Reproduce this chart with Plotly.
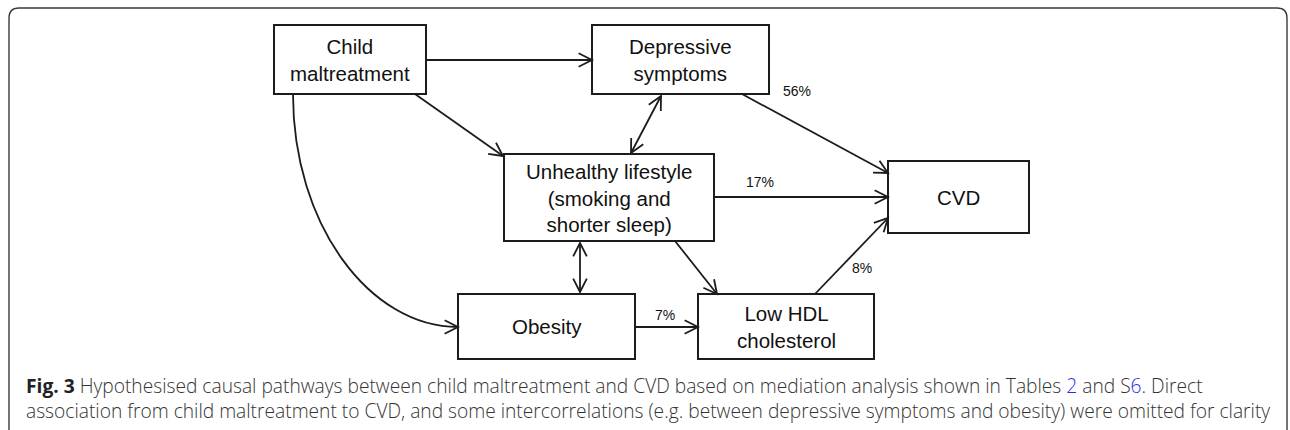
import math
import plotly.graph_objects as go

# ---------------- data ----------------
node_labels = [
    "Child<br>maltreatment",
    "Depressive<br>symptoms",
    "Unhealthy lifestyle<br>(smoking and<br>shorter sleep)",
    "CVD",
    "Obesity",
    "Low HDL<br>cholesterol",
]
edge_source = [0, 0, 1, 1, 2, 2, 2, 4, 5, 0]
edge_target = [1, 2, 2, 3, 3, 5, 4, 5, 3, 4]
edge_both_ways = [False, False, True, False, False, False, True, False, False, False]
edge_percent = [None, None, None, 56, 17, None, None, 7, 8, None]
LINK = "#2b2bf0"
TXT = "#333333"
caption_lines = [
    f"<span style='color:#222'><b>Fig. 3</b></span> Hypothesised causal pathways between child "
    f"maltreatment and CVD based on mediation analysis shown in Tables "
    f"<span style='color:{LINK}'>2</span> and <span style='color:{TXT}'>S</span>"
    f"<span style='color:{LINK}'>6</span>. Direct",
    "association from child maltreatment to CVD, and some intercorrelations (e.g. between "
    "depressive symptoms and obesity) were omitted for clarity",
]

# ---------------- layout geometry (pixel space of the axes) ----------------
W, H = 1290, 430
node_box = [
    (274, 25, 426, 94),
    (592, 25, 769, 94),
    (504, 154, 714, 241),
    (888, 161, 1029, 233),
    (458, 294, 635, 359),
    (698, 294, 874, 359),
]
# edge anchor points (start, end); last edge is a curve (start, c1, c2, end)
edge_geom = [
    [(426, 60), (592, 60)],
    [(415, 94), (503, 156)],
    [(661, 96), (631, 153)],
    [(742, 94), (888, 173)],
    [(714, 197), (888, 197)],
    [(675, 241), (717, 294)],
    [(580, 243), (580, 292)],
    [(635, 327), (698, 327)],
    [(815, 294), (888, 218)],
    [(293, 94), (293, 225), (370, 327), (458, 327)],
]
label_pos = {3: (797, 91), 4: (760, 182), 7: (665, 315), 8: (862, 268)}

INK = "#1c1c1c"
LW = 1.8
HEAD_LEN, HEAD_ANG = 15, math.radians(27)

fig = go.Figure()
shapes = []
annotations = []

# outer rounded frame (bottom runs off the page)
r = 10
frame = (f"M 9,{H + 8} L 9,{8 + r} Q 9,8 {9 + r},8 L {1287 - r},8 "
         f"Q 1287,8 1287,{8 + r} L 1287,{H + 8}")
shapes.append(dict(type="path", path=frame, xref="x", yref="y",
                   line=dict(color="#3a3a3a", width=1.4)))

# node boxes + labels
for lab, (x0, y0, x1, y1) in zip(node_labels, node_box):
    shapes.append(dict(type="rect", x0=x0, y0=y0, x1=x1, y1=y1, xref="x", yref="y",
                       line=dict(color=INK, width=2), fillcolor="white", layer="above"))
    annotations.append(dict(x=(x0 + x1) / 2, y=(y0 + y1) / 2, xref="x", yref="y",
                            text=lab, showarrow=False, xanchor="center", yanchor="middle",
                            font=dict(family="Liberation Sans, Arial", size=20.5, color="#111")))


def head(tip, frm):
    ang = math.atan2(tip[1] - frm[1], tip[0] - frm[0])
    pts = []
    for s in (-1, 1):
        a = ang + math.pi + s * HEAD_ANG
        pts.append((tip[0] + HEAD_LEN * math.cos(a), tip[1] + HEAD_LEN * math.sin(a)))
    return (f"M {pts[0][0]:.2f},{pts[0][1]:.2f} L {tip[0]},{tip[1]} "
            f"L {pts[1][0]:.2f},{pts[1][1]:.2f}")


for i, (s, t) in enumerate(zip(edge_source, edge_target)):
    g = edge_geom[i]
    if len(g) == 4:
        p = f"M {g[0][0]},{g[0][1]} C {g[1][0]},{g[1][1]} {g[2][0]},{g[2][1]} {g[3][0]},{g[3][1]}"
        tip, frm = g[3], g[2]
    else:
        p = f"M {g[0][0]},{g[0][1]} L {g[1][0]},{g[1][1]}"
        tip, frm = g[1], g[0]
    shapes.append(dict(type="path", path=p, xref="x", yref="y",
                       line=dict(color=INK, width=LW)))
    shapes.append(dict(type="path", path=head(tip, frm), xref="x", yref="y",
                       line=dict(color=INK, width=LW)))
    if edge_both_ways[i]:
        shapes.append(dict(type="path", path=head(g[0], g[1]), xref="x", yref="y",
                           line=dict(color=INK, width=LW)))
    if edge_percent[i] is not None:
        lx, ly = label_pos[i]
        annotations.append(dict(x=lx, y=ly, xref="x", yref="y", text=f"{edge_percent[i]}%",
                                showarrow=False, xanchor="center", yanchor="middle",
                                font=dict(family="Liberation Sans, Arial", size=14, color="#111")))

# caption (one block, two lines)
annotations.append(dict(x=24, y=398, xref="x", yref="y", text="<br>".join(caption_lines),
                        showarrow=False, xanchor="left", yanchor="middle", align="left",
                        font=dict(family="Open Sans", size=19.2, color=TXT, weight=350)))

fig.update_layout(
    width=W, height=H, margin=dict(l=0, r=0, t=0, b=0),
    paper_bgcolor="white", plot_bgcolor="white",
    xaxis=dict(range=[0, W], visible=False, fixedrange=True),
    yaxis=dict(range=[H, 0], visible=False, fixedrange=True),
    shapes=shapes, annotations=annotations, showlegend=False,
)
fig.write_html(
    "out.html",
    config={"displayModeBar": False},
    post_script="document.body.style.margin='0';document.body.style.overflow='hidden';",
)
